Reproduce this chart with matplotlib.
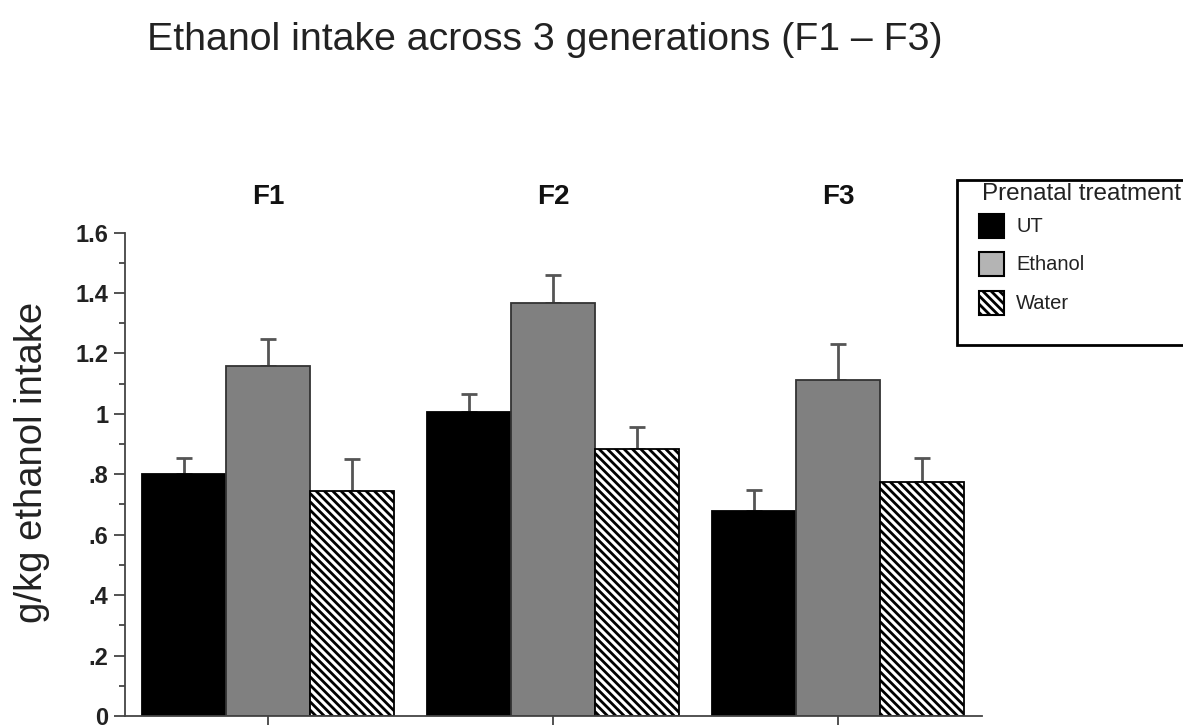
import matplotlib
matplotlib.use("Agg")
import matplotlib.pyplot as plt
import numpy as np
from matplotlib.patches import Rectangle

# ---- data ----
generations = ["F1", "F2", "F3"]
treatments = ["UT", "Ethanol", "Water"]
ut_vals = [0.80, 1.005, 0.68]
ethanol_vals = [1.158, 1.368, 1.113]
water_vals = [0.745, 0.882, 0.775]
ut_err = [0.053, 0.060, 0.068]
ethanol_err = [0.090, 0.092, 0.119]
water_err = [0.105, 0.074, 0.079]
ytick_vals = [0, 0.2, 0.4, 0.6, 0.8, 1.0, 1.2, 1.4, 1.6]
ytick_labels = ["0", ".2", ".4", ".6", ".8", "1", "1.2", "1.4", "1.6"]

plt.rcParams['font.family'] = ['Liberation Sans', 'DejaVu Sans']
plt.rcParams['hatch.linewidth'] = 2.0

W, H = 1183, 725
fig = plt.figure(figsize=(W / 100, H / 100), dpi=100)
fig.patch.set_facecolor("white")
ax = fig.add_axes([125 / W, 9 / H, 857 / W, 483.5 / H])

x = np.arange(len(generations))
bw = 0.295
spine_col = "#444444"
err_col = "#555555"

series = [
    (ut_vals, ut_err, dict(color="black", edgecolor="black")),
    (ethanol_vals, ethanol_err, dict(color="#808080", edgecolor="#333333")),
    (water_vals, water_err, dict(color="white", edgecolor="black", hatch="\\\\\\\\")),
]
for i, (vals, errs, style) in enumerate(series):
    pos = x + (i - 1) * bw
    ax.bar(pos, vals, width=bw, linewidth=1.3, zorder=2, **style)
    ax.errorbar(pos, vals, yerr=[np.zeros(len(errs)), errs], fmt="none",
                ecolor=err_col, elinewidth=2, capsize=6, capthick=2, zorder=1)

ax.set_xlim(-0.502, 2.505)
ax.set_ylim(0, 1.6)
ax.set_xticks(x)
ax.set_xticklabels([])
ax.set_yticks(ytick_vals)
ax.set_yticklabels(ytick_labels, fontsize=17, fontweight="bold", color="#222222")
ax.set_yticks(np.arange(0.1, 1.6, 0.2), minor=True)
ax.tick_params(axis="y", which="major", length=8, width=1.3, color=spine_col, pad=4)
ax.tick_params(axis="y", which="minor", length=4, width=1.3, color=spine_col)
ax.tick_params(axis="x", which="major", length=7, width=1.3, color=spine_col)
for s in ["top", "right"]:
    ax.spines[s].set_visible(False)
for s in ["left", "bottom"]:
    ax.spines[s].set_color(spine_col)
    ax.spines[s].set_linewidth(1.3)

ax.set_ylabel("g/kg ethanol intake", fontsize=27.5, color="#222222")
ax.yaxis.set_label_coords(-0.088, 0.525)

for xi, g in zip(x, generations):
    ax.text(xi, 1.716, g, ha="center", va="center", fontsize=20, fontweight="bold",
            color="#111111", transform=ax.transData, clip_on=False)

fig.text(545 / W, 1 - 40 / H, "Ethanol intake across 3 generations (F1 \u2013 F3)",
         ha="center", va="center", fontsize=28.3, color="#222222")

# ---- legend (manual, in figure pixel coords) ----
def fx(px):
    return px / W

def fy(py):
    return 1 - py / H

frame = Rectangle((fx(957), fy(345)), fx(260), 165 / H, transform=fig.transFigure,
                  facecolor="white", edgecolor="black", linewidth=2, zorder=5)
fig.add_artist(frame)
fig.text(fx(982), fy(194), "Prenatal treatment", ha="left", va="center",
         fontsize=17.5, color="#222222", zorder=6)
leg_styles = [
    dict(facecolor="black", edgecolor="black"),
    dict(facecolor="#b4b4b4", edgecolor="black"),
    dict(facecolor="white", edgecolor="black", hatch="\\\\\\\\"),
]
ys = [226, 264, 303]
for lab, st, yy in zip(treatments, leg_styles, ys):
    r = Rectangle((fx(979), fy(yy + 12)), 25 / W, 24 / H, transform=fig.transFigure,
                  linewidth=1.5, zorder=6, **st)
    fig.add_artist(r)
    fig.text(fx(1016), fy(yy), lab, ha="left", va="center", fontsize=14.5,
             color="#222222", zorder=6)

fig.savefig("out.png", dpi=100)
